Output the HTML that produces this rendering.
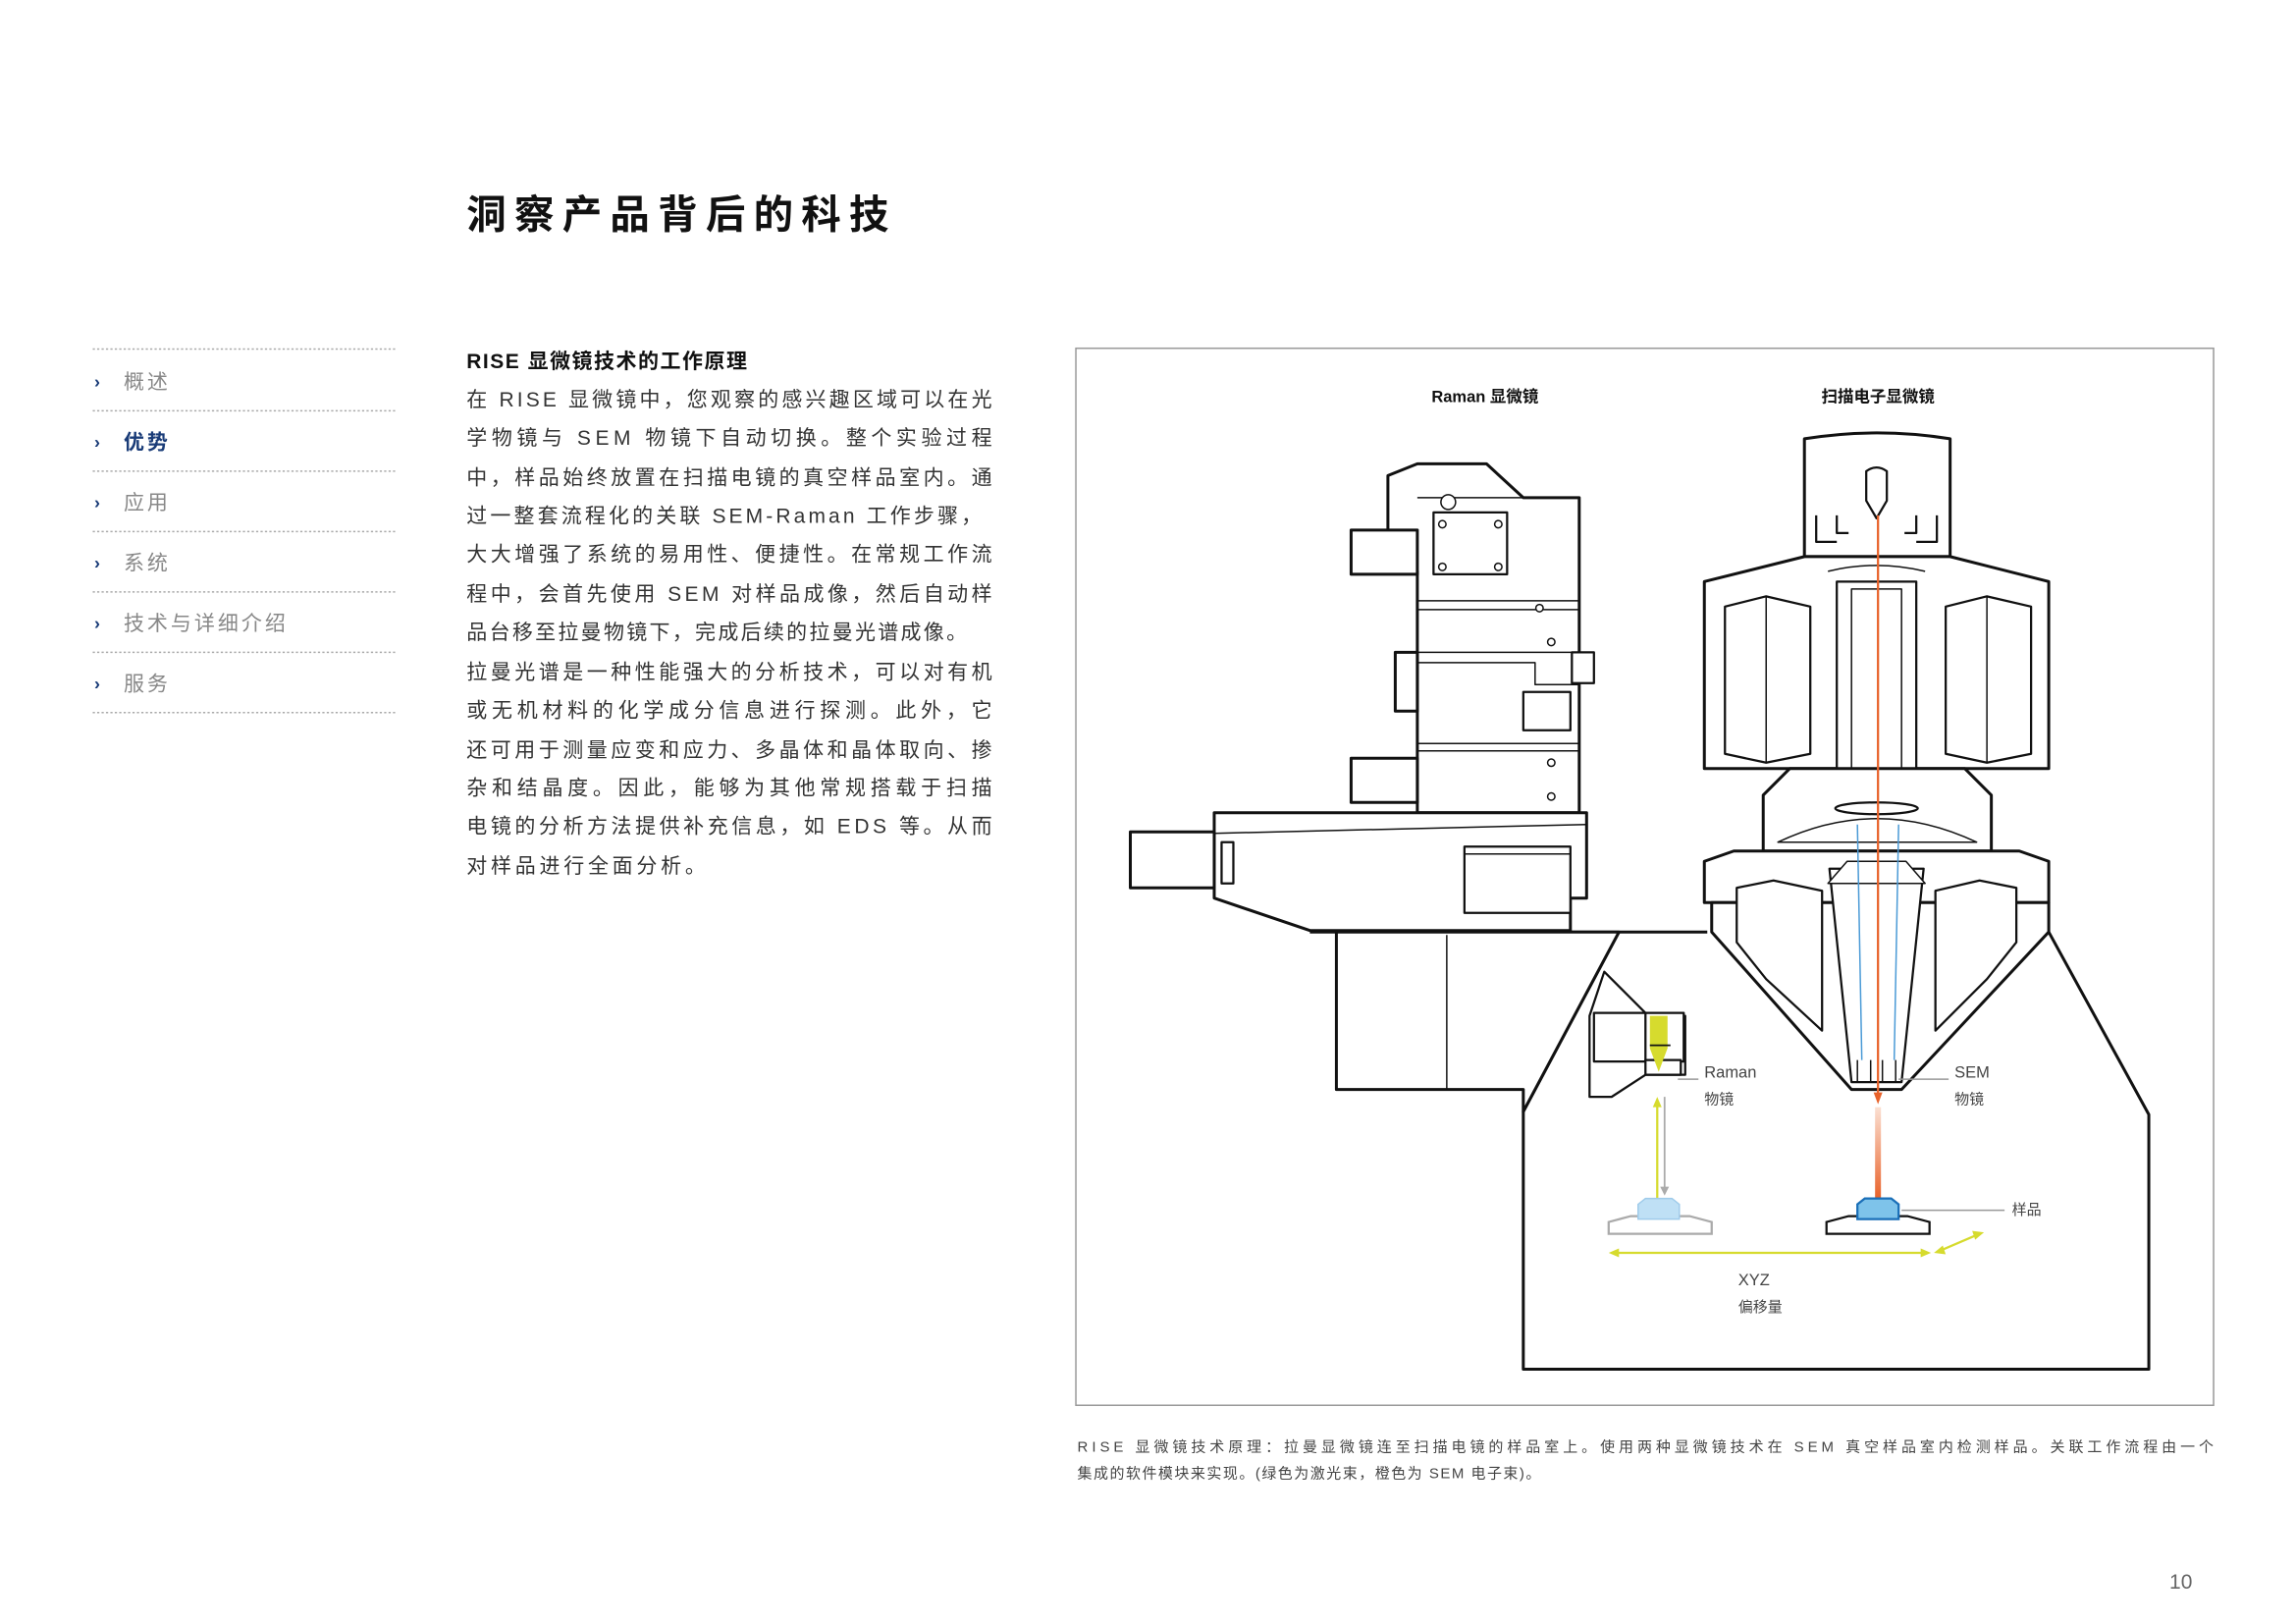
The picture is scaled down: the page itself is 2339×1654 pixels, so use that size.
<!DOCTYPE html>
<html><head><meta charset="utf-8"><style>
html,body{margin:0;padding:0;background:#fff;}
svg{display:block;}
text{font-family:"Liberation Sans","Noto Sans CJK SC",sans-serif;}
</style></head><body>
<svg width="2339" height="1654" viewBox="0 0 1560 1103" xmlns="http://www.w3.org/2000/svg">
<defs>
<linearGradient id="og" x1="0" y1="0" x2="0" y2="1"><stop offset="0" stop-color="#fbe0d2"/><stop offset="1" stop-color="#e8622a"/></linearGradient>
</defs>
<rect width="1560" height="1103" fill="#fff"/>
<!-- title -->
<text x="317" y="155" font-size="27" font-weight="bold" fill="#111" letter-spacing="5.5">洞察产品背后的科技</text>
<!-- nav -->
<g stroke="#aaa" stroke-width="1" stroke-dasharray="1.5,1.5">
<line x1="63" y1="237" x2="270" y2="237"/><line x1="63" y1="279" x2="270" y2="279"/>
<line x1="63" y1="320" x2="270" y2="320"/><line x1="63" y1="361" x2="270" y2="361"/>
<line x1="63" y1="402" x2="270" y2="402"/><line x1="63" y1="443" x2="270" y2="443"/>
<line x1="63" y1="484" x2="270" y2="484"/>
</g>
<g font-size="14" fill="#888" letter-spacing="2">
<text x="64" y="263" fill="#1a3c78" font-weight="bold" font-size="12">›</text><text x="84" y="264">概述</text>
<text x="64" y="304" fill="#1a3c78" font-weight="bold" font-size="12">›</text><text x="84" y="305" fill="#1a3c78" font-weight="bold">优势</text>
<text x="64" y="345" fill="#1a3c78" font-weight="bold" font-size="12">›</text><text x="84" y="346">应用</text>
<text x="64" y="386" fill="#1a3c78" font-weight="bold" font-size="12">›</text><text x="84" y="387">系统</text>
<text x="64" y="427" fill="#1a3c78" font-weight="bold" font-size="12">›</text><text x="84" y="428">技术与详细介绍</text>
<text x="64" y="468" fill="#1a3c78" font-weight="bold" font-size="12">›</text><text x="84" y="469">服务</text>
</g>
<!-- body -->
<text x="317" y="250" font-size="14" font-weight="bold" fill="#111" letter-spacing="1">RISE 显微镜技术的工作原理</text>
<g font-size="14" fill="#333">
<text x="317" y="276" textLength="357" lengthAdjust="spacing">在 RISE 显微镜中，您观察的感兴趣区域可以在光</text>
<text x="317" y="302" textLength="357" lengthAdjust="spacing">学物镜与 SEM 物镜下自动切换。整个实验过程</text>
<text x="317" y="329" textLength="357" lengthAdjust="spacing">中，样品始终放置在扫描电镜的真空样品室内。通</text>
<text x="317" y="355" textLength="350" lengthAdjust="spacing">过一整套流程化的关联 SEM-Raman 工作步骤，</text>
<text x="317" y="381" textLength="357" lengthAdjust="spacing">大大增强了系统的易用性、便捷性。在常规工作流</text>
<text x="317" y="408" textLength="357" lengthAdjust="spacing">程中，会首先使用 SEM 对样品成像，然后自动样</text>
<text x="317" y="434" textLength="340" lengthAdjust="spacing">品台移至拉曼物镜下，完成后续的拉曼光谱成像。</text>
<text x="317" y="461" textLength="357" lengthAdjust="spacing">拉曼光谱是一种性能强大的分析技术，可以对有机</text>
<text x="317" y="487" textLength="357" lengthAdjust="spacing">或无机材料的化学成分信息进行探测。此外，它</text>
<text x="317" y="514" textLength="357" lengthAdjust="spacing">还可用于测量应变和应力、多晶体和晶体取向、掺</text>
<text x="317" y="540" textLength="357" lengthAdjust="spacing">杂和结晶度。因此，能够为其他常规搭载于扫描</text>
<text x="317" y="566" textLength="357" lengthAdjust="spacing">电镜的分析方法提供补充信息，如 EDS 等。从而</text>
<text x="317" y="593" letter-spacing="2.5">对样品进行全面分析。</text>
</g>
<!-- frame -->
<rect x="731" y="236.5" width="773" height="718" fill="none" stroke="#999" stroke-width="1"/>
<text x="1009" y="273" font-size="11" font-weight="bold" fill="#111" text-anchor="middle">Raman 显微镜</text>
<text x="1276" y="273" font-size="11" font-weight="bold" fill="#111" text-anchor="middle">扫描电子显微镜</text>

<g fill="#fff" stroke="#111" stroke-width="2" stroke-linejoin="round">
<!-- chamber -->
<path d="M1100,633 L1035,755 L1035,930 L1460,930 L1460,757 L1392,633"/>
<line x1="890" y1="633" x2="1160" y2="633"/>
<!-- raman lower body -->
<path d="M908,633 L908,740 L1035,740 L1035,755 L1100,633 Z"/>
<line x1="983" y1="635" x2="983" y2="740" stroke-width="1"/>
<path d="M1090,660 L1120,690 L1145,690 L1145,730 L1118,730 L1095,745 L1080,745 L1080,690 Z" stroke-width="1.5"/>
<rect x="1083" y="688" width="40" height="33" stroke-width="1.5"/>
<rect x="1118" y="688" width="26" height="33" stroke-width="1.5"/>
<rect x="1118" y="720" width="24" height="10" stroke-width="1.5"/>
<!-- raman column -->
<path d="M943,323 L963,315 L1010,315 L1035,338 L1073,338 L1073,552 L963,552 L963,388 L943,388 Z"/>
<rect x="918" y="360" width="45" height="30"/>
<rect x="948" y="443" width="15" height="40"/>
<rect x="918" y="515" width="45" height="30"/>
<line x1="963" y1="338" x2="1035" y2="338" stroke-width="1"/>
<line x1="963" y1="408" x2="1073" y2="408" stroke-width="1"/>
<line x1="963" y1="414" x2="1073" y2="414" stroke-width="1"/>
<line x1="963" y1="443" x2="1073" y2="443" stroke-width="1"/>
<line x1="963" y1="505" x2="1073" y2="505" stroke-width="1"/>
<line x1="963" y1="510" x2="1073" y2="510" stroke-width="1"/>
<path d="M963,450 L1043,450 L1043,465 L1073,465" stroke-width="1" fill="none"/>
<rect x="1068" y="443" width="15" height="21" stroke-width="1.5"/>
<rect x="1035" y="470" width="32" height="26" stroke-width="1.5"/>
<rect x="974" y="348" width="50" height="42" stroke-width="1.5"/>
<circle cx="984" cy="341" r="5" stroke-width="1"/>
<g stroke-width="1"><circle cx="980" cy="356" r="2.5"/><circle cx="1018" cy="356" r="2.5"/><circle cx="980" cy="385" r="2.5"/><circle cx="1018" cy="385" r="2.5"/>
<circle cx="1046" cy="413" r="2.5"/><circle cx="1054" cy="436" r="2.5"/><circle cx="1054" cy="518" r="2.5"/><circle cx="1054" cy="541" r="2.5"/></g>
<!-- horizontal body -->
<path d="M825,552 L1078,552 L1078,610 L1067,610 L1067,632 L890,632 L825,610 Z"/>
<rect x="768" y="565" width="57" height="38"/>
<rect x="830" y="572" width="8" height="28" stroke-width="1.5"/>
<rect x="995" y="575" width="72" height="45" stroke-width="1.5"/>
<line x1="995" y1="580" x2="1067" y2="580" stroke-width="1"/>
<path d="M825,566 L1078,560" stroke-width="1" fill="none"/>
<!-- SEM gun -->
<path d="M1226,298 Q1275,290 1325,298 L1325,378 L1226,378 Z"/>
<path d="M1268,340 L1268,320 Q1275,315 1282,320 L1282,340 L1275,352 Z" stroke-width="1.5"/>
<g stroke-width="1.5" fill="none">
<path d="M1234,350 L1234,368 L1248,368"/><path d="M1248,350 L1248,362 L1256,362"/>
<path d="M1316,350 L1316,368 L1302,368"/><path d="M1302,350 L1302,362 L1294,362"/>
</g>
<!-- SEM main -->
<path d="M1158,395 L1226,378 L1325,378 L1392,395 L1392,522 L1158,522 Z"/>
<path d="M1242,388 Q1275,380 1308,388" fill="none" stroke-width="1"/>
<path d="M1172,412 L1200,405 L1230,412 L1230,512 L1200,518 L1172,512 Z" stroke-width="1.5"/>
<line x1="1200" y1="405" x2="1200" y2="518" stroke-width="1"/>
<path d="M1322,412 L1350,405 L1380,412 L1380,512 L1350,518 L1322,512 Z" stroke-width="1.5"/>
<line x1="1350" y1="405" x2="1350" y2="518" stroke-width="1"/>
<rect x="1248" y="395" width="54" height="145" stroke-width="1.5"/>
<rect x="1258" y="400" width="34" height="138" stroke-width="1"/>
<!-- middle -->
<path d="M1198,540 L1216,522 L1335,522 L1353,540 L1353,578 L1198,578 Z"/>
<path d="M1208,572 Q1275,540 1343,572 Z" stroke-width="1"/>
<ellipse cx="1275" cy="549" rx="28" ry="4" stroke-width="1.5"/>
<!-- lower ring -->
<path d="M1158,585 L1178,578 L1372,578 L1392,585 L1392,613 L1158,613 Z"/>
<!-- cone -->
<path d="M1163,613 L1163,633 L1258,740 L1292,740 L1392,633 L1392,613 Z"/>
<path d="M1180,603 L1205,598 L1238,605 L1238,700 L1200,665 L1180,640 Z" stroke-width="1.5"/>
<path d="M1370,603 L1345,598 L1315,605 L1315,700 L1350,665 L1370,640 Z" stroke-width="1.5"/>
<path d="M1243,590 L1258,735 L1292,735 L1307,590 Z" stroke-width="1.5"/>
<path d="M1255,585 L1295,585 L1308,600 L1242,600 Z" stroke-width="1"/>
<path d="M1262,720 L1262,735 L1271,735 L1271,720 M1279,720 L1279,735 L1288,735 L1288,720" stroke-width="1" fill="none"/>
</g>
<!-- beams -->
<line x1="1276" y1="350" x2="1276" y2="745" stroke="#e8622a" stroke-width="1.5"/>
<path d="M1273,742 L1279,742 L1276,750 Z" fill="#e8622a"/>
<rect x="1274" y="752" width="4" height="62" fill="url(#og)"/>
<g stroke="#4a9ad6" stroke-width="1" fill="none">
<line x1="1265" y1="720" x2="1262" y2="560"/><line x1="1287" y1="720" x2="1290" y2="560"/>
</g>
<!-- raman beam -->
<path d="M1121,690 L1133,690 L1133,712 L1127,728 L1121,712 Z" fill="#d6db2e"/>
<line x1="1121" y1="710" x2="1135" y2="710" stroke="#111" stroke-width="1.2"/>
<line x1="1126" y1="750" x2="1126" y2="814" stroke="#d6db2e" stroke-width="1.5"/>
<path d="M1123,752 L1129,752 L1126,745 Z" fill="#d6db2e"/>
<line x1="1131" y1="745" x2="1131" y2="808" stroke="#aaa" stroke-width="1.2"/>
<path d="M1128,806 L1134,806 L1131,812 Z" fill="#aaa"/>
<!-- samples -->
<path d="M1093,838 L1093,830 L1108,826 L1148,826 L1163,830 L1163,838 Z" fill="#fff" stroke="#aaa" stroke-width="1.5"/>
<path d="M1113,828 L1113,818 L1118,814 L1136,814 L1141,818 L1141,828 Z" fill="#bfe0f5" stroke="#9fcbea" stroke-width="1"/>
<path d="M1241,838 L1241,830 L1256,826 L1296,826 L1311,830 L1311,838 Z" fill="#fff" stroke="#111" stroke-width="1.5"/>
<path d="M1262,828 L1262,818 L1267,814 L1285,814 L1290,818 L1290,828 Z" fill="#7ec3ea" stroke="#1a6fb8" stroke-width="1.5"/>
<line x1="1292" y1="822" x2="1362" y2="822" stroke="#999" stroke-width="1"/>
<!-- xyz arrows -->
<g stroke="#d6db2e" stroke-width="1.5" fill="#d6db2e">
<line x1="1096" y1="851" x2="1309" y2="851"/>
<path d="M1093,851 L1100,848 L1100,854 Z" stroke="none"/><path d="M1312,851 L1305,848 L1305,854 Z" stroke="none"/>
<line x1="1317" y1="850" x2="1345" y2="838"/>
<path d="M1314,851 L1320,846 L1322,852 Z" stroke="none"/><path d="M1348,837 L1340,836 L1342,842 Z" stroke="none"/>
</g>
<!-- leader lines -->
<line x1="1140" y1="733" x2="1154" y2="733" stroke="#999" stroke-width="1"/>
<line x1="1290" y1="733" x2="1324" y2="733" stroke="#999" stroke-width="1"/>
<g font-size="11" fill="#444">
<text x="1158" y="732">Raman</text><text x="1158" y="750" font-size="10">物镜</text>
<text x="1328" y="732">SEM</text><text x="1328" y="750" font-size="10">物镜</text>
<text x="1367" y="825" font-size="10">样品</text>
<text x="1181" y="873">XYZ</text><text x="1181" y="891" font-size="10">偏移量</text>
</g>
<!-- caption -->
<g font-size="10" fill="#444">
<text x="732" y="986" textLength="772" lengthAdjust="spacing">RISE 显微镜技术原理：拉曼显微镜连至扫描电镜的样品室上。使用两种显微镜技术在 SEM 真空样品室内检测样品。关联工作流程由一个</text>
<text x="732" y="1004" letter-spacing="1">集成的软件模块来实现。(绿色为激光束，橙色为 SEM 电子束)。</text>
</g>
<text x="1474" y="1079" font-size="14" fill="#666">10</text>
</svg>
</body></html>
